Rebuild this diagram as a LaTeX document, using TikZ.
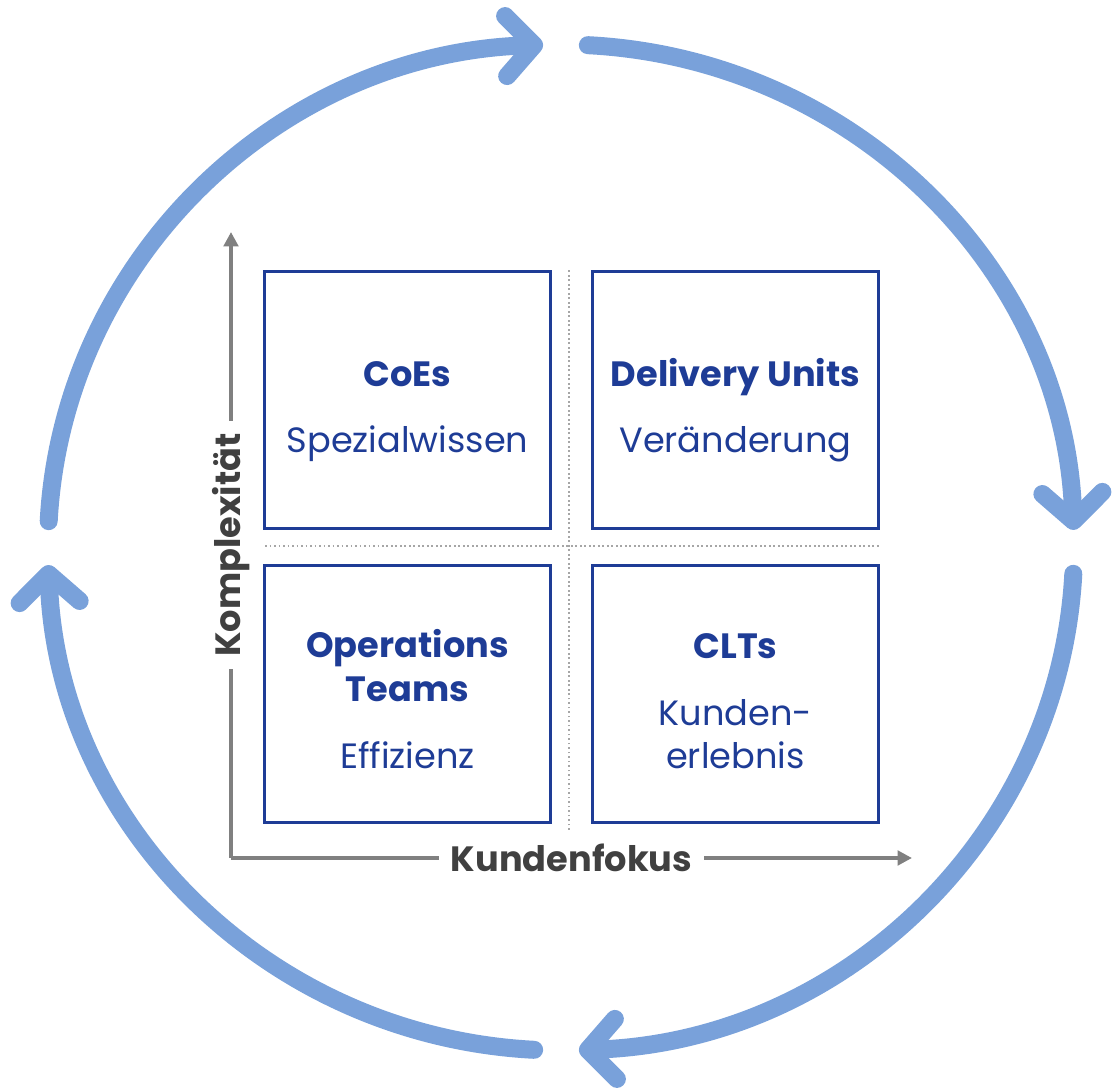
\documentclass[tikz,border=0pt]{standalone}
\usepackage{fontspec}
\setmainfont{Poppins}
\usetikzlibrary{arrows.meta}

\begin{document}
\begin{tikzpicture}[x=0.025cm,y=0.025cm,
  cyclearc/.style={draw=sky,line width=12.8pt,line cap=round,-{Straight Barb[length=0.7cm,width=1.5cm,round]}},
  quadbox/.style={draw=navy,line width=2.4pt,minimum width=7.15cm,minimum height=6.43cm,inner sep=0pt},
  quadtitle/.style={anchor=base,text=navy,font=\bfseries\fontsize{25}{30}\selectfont},
  quadsub/.style={anchor=base,text=navy,font=\fontsize{25}{30}\selectfont},
  axisline/.style={draw=axisgray,line width=2.6pt,-{Triangle[length=0.36cm,width=0.36cm]}},
  axislabel/.style={fill=white,text=labelgray,inner xsep=0.3cm,font=\bfseries\fontsize{25}{30}\selectfont},
  divider/.style={draw=gray!70,line width=1.2pt,dotted}]
\definecolor{sky}{HTML}{79A1DA}
\definecolor{navy}{HTML}{1E3C96}
\definecolor{axisgray}{HTML}{808080}
\definecolor{labelgray}{HTML}{404040}
\useasboundingbox (0,0) rectangle (1112,1092);
% cycle around the matrix
  \foreach \s in {177,87,-3,-93}
  {  \draw[cyclearc] (561,544.5) ++(\s:513 and 503) arc[start angle=\s,delta angle=-85,x radius=513,y radius=503];}
% dotted cross
\draw[divider] (569,262) -- (569,822);
\draw[divider] (265,546) -- (880,546);
% four boxes
  \foreach \nm/\cx/\cy in {coes/407.5/692,delivery/735.5/692,ops/407.5/398,clts/735.5/398}
  {  \node [quadbox] (\nm) at (\cx,\cy) {};}
\node [quadtitle] (coes-t) at (407.5,705) {CoEs};
\node [quadsub] (coes-s) at (407.5,639) {Spezialwissen};
\node [quadtitle] (delivery-t) at (735.5,705) {Delivery Units};
\node [quadsub] (delivery-s) at (735.5,639) {Veränderung};
\node [quadtitle] (ops-t1) at (407.5,434) {Operations};
\node [quadtitle] (ops-t2) at (407.5,390) {Teams};
\node [quadsub] (ops-s) at (407.5,323) {Effizienz};
\node [quadtitle] (clts-t) at (735.5,433) {CLTs};
\node [quadsub] (clts-s1) at (735.5,366) {Kunden-};
\node [quadsub] (clts-s2) at (735.5,323) {erlebnis};
% axes
\coordinate (origin) at (231,234);
\coordinate (ytop) at (231,860);
\coordinate (xend) at (912,234);
\draw[axisline] (origin) -- (ytop) node[midway,axislabel,rotate=90] (ylab) {Komplexität};
\draw[axisline] (origin) -- (xend) node[midway,axislabel] (xlab) {Kundenfokus};
\end{tikzpicture}
\end{document}
